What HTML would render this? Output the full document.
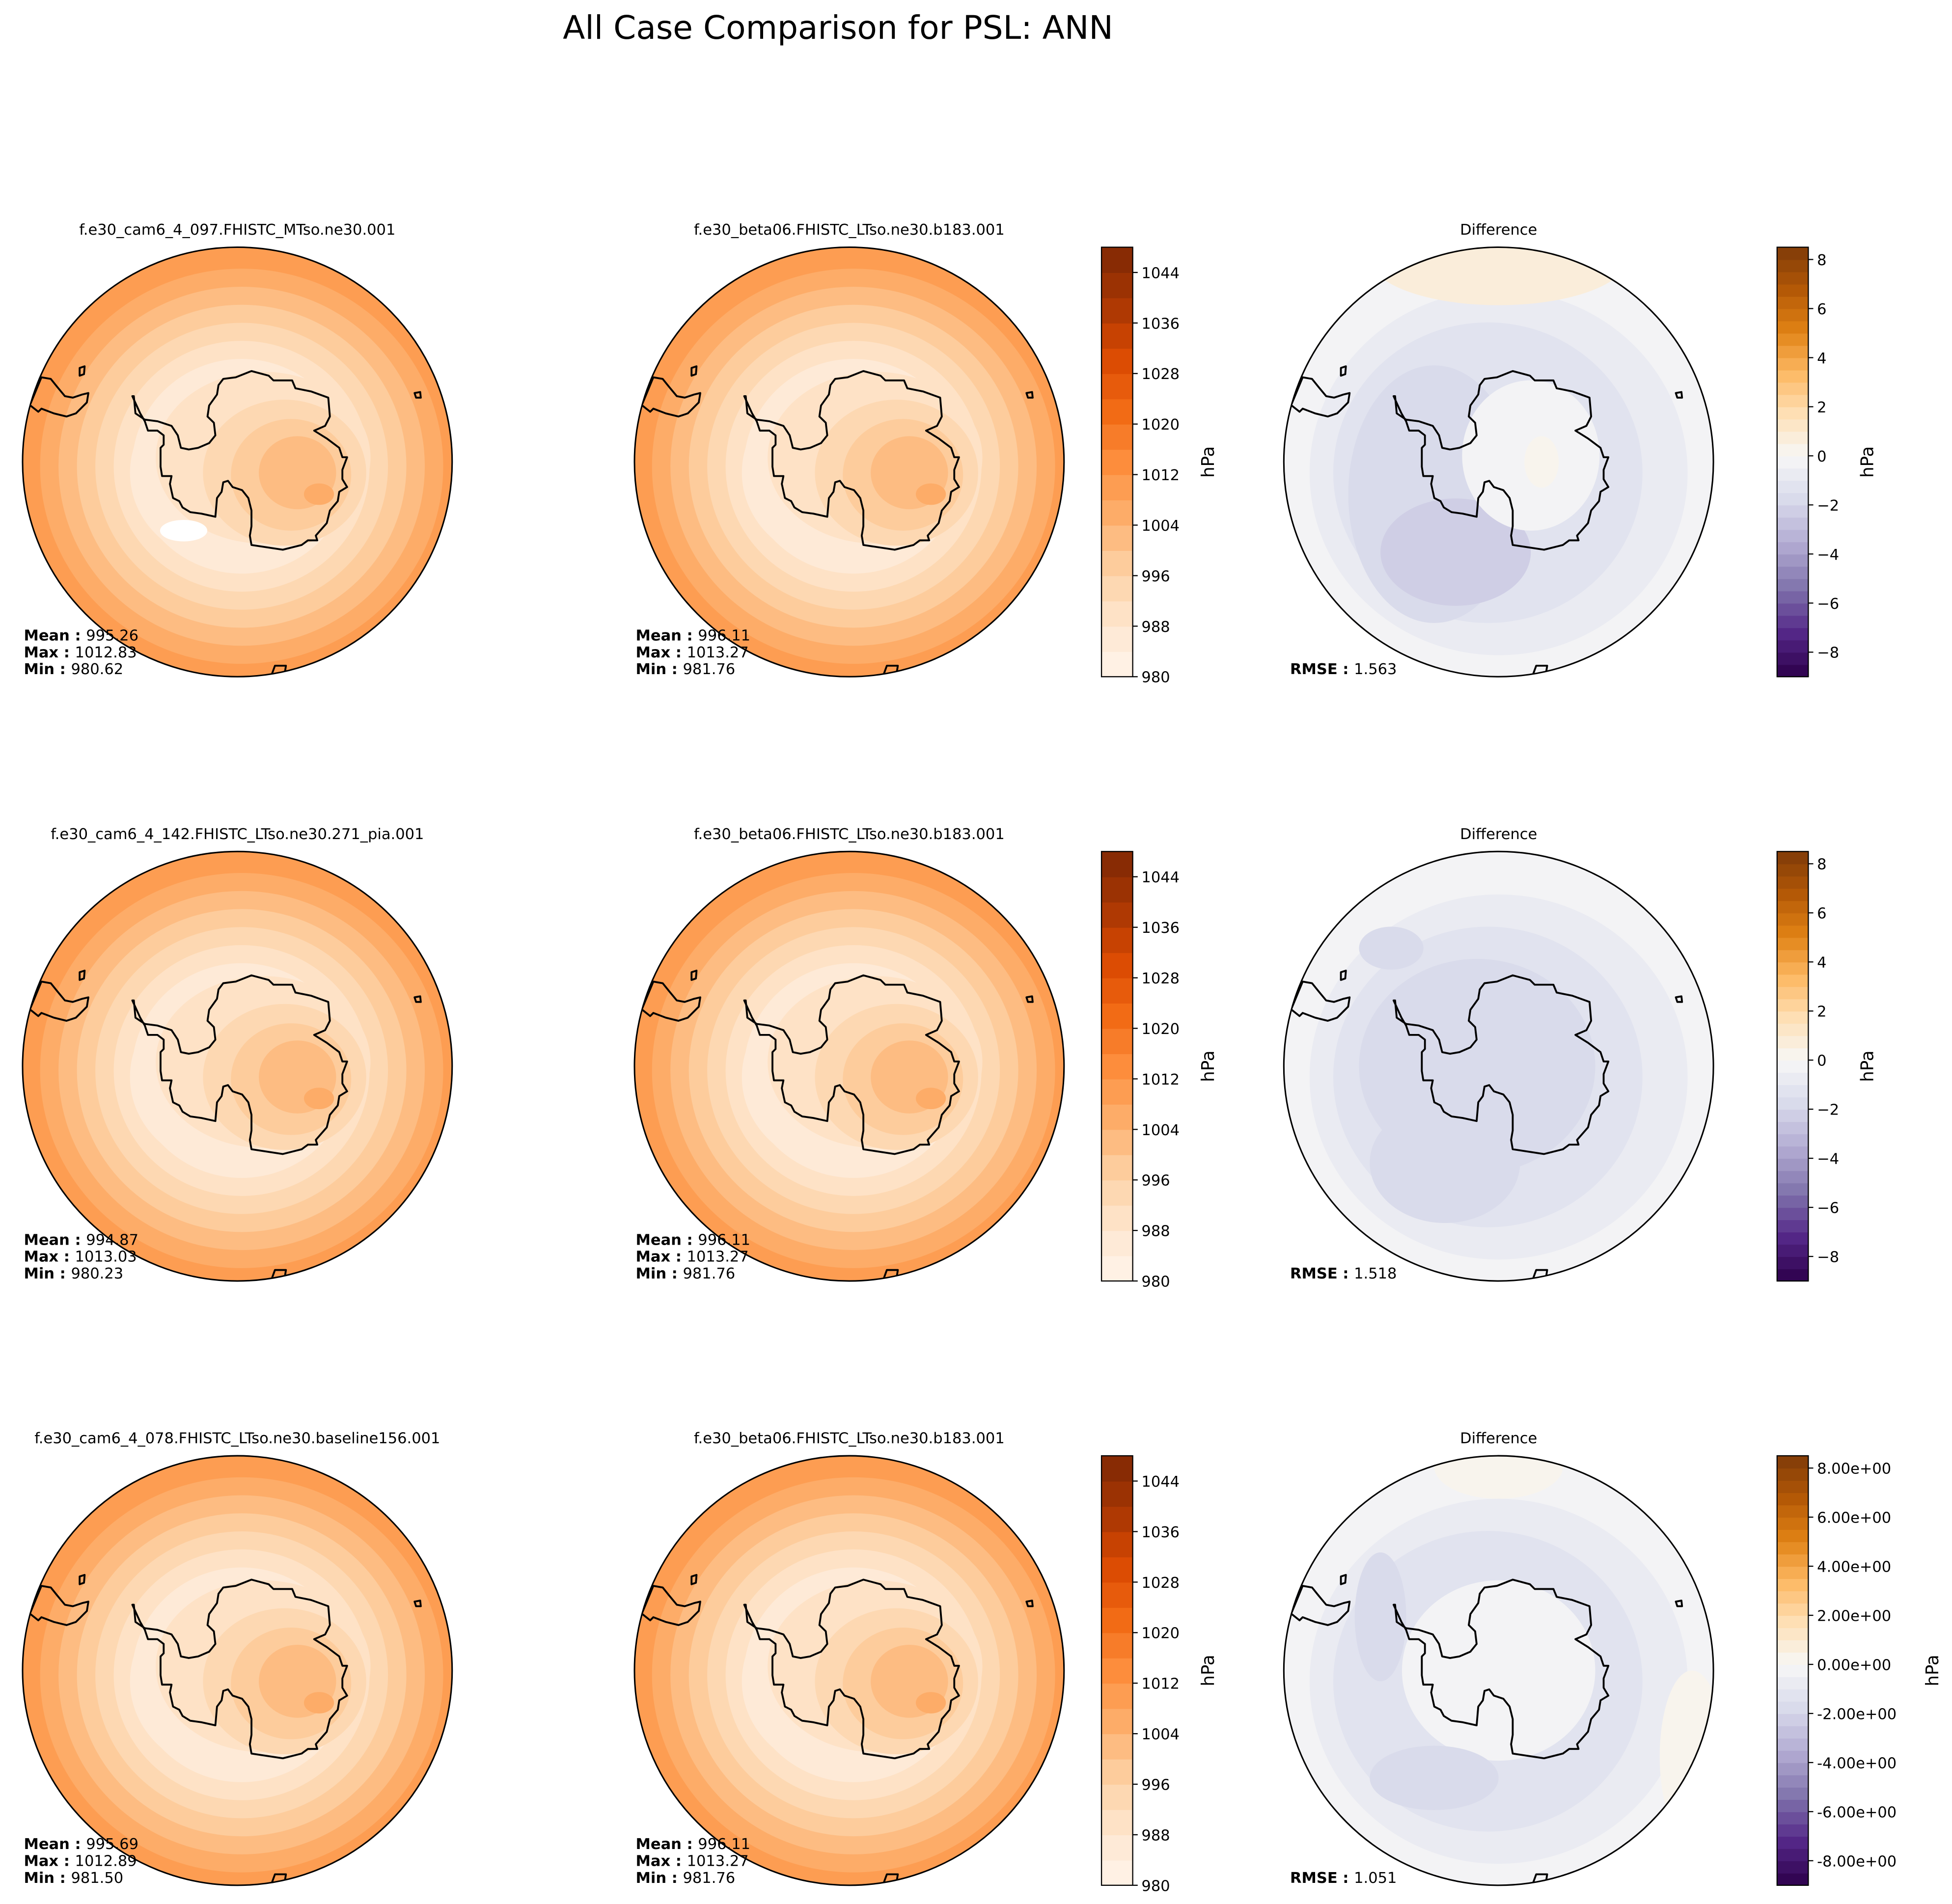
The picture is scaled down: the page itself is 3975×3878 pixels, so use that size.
<!DOCTYPE html>
<html><head><meta charset="utf-8"><style>
html,body{margin:0;padding:0;background:#fff}
svg{display:block}
text{font-family:"DejaVu Sans","Liberation Sans",sans-serif;fill:#000}
</style></head><body>
<svg id="fig" xmlns="http://www.w3.org/2000/svg" width="3975" height="3878" viewBox="0 0 1563 1525">
<rect width="1563" height="1525" fill="#fff"/>
<text x="671" y="31" font-size="26" text-anchor="middle">All Case Comparison for PSL: ANN</text>
<g id="root"></g>
</svg>
<script>
// ---- data ----
const caseNames = ["f.e30_cam6_4_097.FHISTC_MTso.ne30.001","f.e30_cam6_4_142.FHISTC_LTso.ne30.271_pia.001","f.e30_cam6_4_078.FHISTC_LTso.ne30.baseline156.001"];
const baseName = "f.e30_beta06.FHISTC_LTso.ne30.b183.001";
const testMean = [995.26, 994.87, 995.69];
const testMax = [1012.83, 1013.03, 1012.89];
const testMin = [980.62, 980.23, 981.50];
const baseMean = [996.11, 996.11, 996.11];
const baseMax = [1013.27, 1013.27, 1013.27];
const baseMin = [981.76, 981.76, 981.76];
const rmse = ["1.563", "1.518", "1.051"];
const absTicks = [980, 988, 996, 1004, 1012, 1020, 1028, 1036, 1044];
const diffTicks = [-8, -6, -4, -2, 0, 2, 4, 6, 8];
const absRange = [980, 1048];
const diffRange = [-9, 8.5];
// contour boundary values (hPa) for radial field
const ringLevels = [1008, 1004, 1000, 996, 992, 988];
// ---- helpers ----
const NS = "http://www.w3.org/2000/svg";
const root = document.getElementById("root");
function el(tag, attrs, parent){const e=document.createElementNS(NS,tag);for(const k in attrs)e.setAttribute(k,attrs[k]);(parent||root).appendChild(e);return e;}
function lerpHex(stops,t){t=Math.max(0,Math.min(1,t));const n=stops.length-1;const i=Math.min(n-1,Math.floor(t*n));const f=t*n-i;
 const a=stops[i],b=stops[i+1];const p=h=>[1,3,5].map(j=>parseInt(h.substr(j,2),16));const A=p(a),B=p(b);
 return "rgb("+A.map((v,k)=>Math.round(v+(B[k]-v)*f)).join(",")+")";}
const oranges=["#fff5eb","#fee6ce","#fdd0a2","#fdae6b","#fd8d3c","#f16913","#d94801","#a63603","#7f2704"];
const puor=["#2d004b","#542788","#8073ac","#b2abd2","#d8daeb","#f7f7f7","#fee0b6","#fdb863","#e08214","#b35806","#7f3b08"];
function absColor(v){const lo=Math.floor((v-980)/4)*4+980;return lerpHex(oranges,(lo+2-absRange[0])/(absRange[1]-absRange[0]));}
function diffColor(v){const lo=Math.floor(v/0.5)*0.5+0.25;const t=lo<0?0.5-0.5*(-lo/9):0.5+0.5*(lo/8.5);return lerpHex(puor,t);}
function ringFrac(v){return 0.5+(v-988)/20*0.42;}
const ant=[[425,635],[430,690],[460,710],[500,715],[545,730],[565,760],[575,800],[600,805],[630,800],[665,785],[685,760],[680,720],[660,700],[665,665],[690,630],[695,600],[710,580],[750,575],[800,555],[855,570],[870,585],[930,585],[940,610],[990,620],[1045,640],[1050,700],[1035,730],[1000,745],[1040,770],[1080,800],[1090,830],[1105,830],[1090,870],[1090,900],[1105,925],[1080,940],[1075,970],[1050,1000],[1040,1040],[1005,1080],[1010,1095],[980,1095],[960,1110],[900,1125],[800,1110],[795,1080],[800,1050],[800,1000],[790,960],[770,935],[740,925],[725,905],[710,910],[705,940],[690,960],[685,1020],[640,1010],[605,1005],[580,990],[570,970],[550,960],[540,915],[545,890],[515,890],[510,860],[510,800],[520,790],[520,760],[500,745],[470,745],[460,715],[445,690],[420,635]];
const sam=[[95,660],[130,575],[160,580],[180,605],[205,635],[230,640],[260,630],[280,625],[275,655],[240,690],[210,700],[170,690],[130,675],[120,685],[95,665]];
const isl1=[[252,545],[268,540],[266,565],[252,570]];
const isl2=[[1320,625],[1338,622],[1340,640],[1325,640]];
const isl3=[[862,1530],[875,1495],[910,1495],[905,1525]];
function pth(pts,cx,cy,R,close){return pts.map((p,i)=>(i?"L":"M")+(cx+(p[0]-755)/685*R).toFixed(1)+","+(cy+(p[1]-845)/685*R).toFixed(1)).join("")+(close?"Z":"");}
let clipId=0;
function mapPanel(cx,cy,R,kind,row){
 const g=el("g",{});
 
 
 const id="c"+(clipId++);const cp=el("clipPath",{id:id},g);el("circle",{cx:cx,cy:cy,r:R},cp);
 const inner=el("g",{"clip-path":"url(#"+id+")"},g);
 if(kind==="abs"){
  el("circle",{cx:cx,cy:cy,r:R,fill:absColor(1009)},inner);
  ringLevels.forEach(v=>{const f=ringFrac(v);el("ellipse",{cx:cx+R*0.02,cy:cy+R*0.02,rx:R*f*1.02,ry:R*f,fill:absColor(v-1)},inner);});
  el("ellipse",{cx:cx-R*0.05,cy:cy+R*0.05,rx:R*0.45,ry:R*0.42,fill:absColor(985)},inner);
  el("ellipse",{cx:cx+R*0.12,cy:cy-R*0.02,rx:R*0.5,ry:R*0.4,fill:absColor(989)},inner);
  el("ellipse",{cx:cx+R*0.22,cy:cy+R*0.05,rx:R*0.38,ry:R*0.34,fill:absColor(993)},inner);
  el("ellipse",{cx:cx+R*0.25,cy:cy+R*0.06,rx:R*0.28,ry:R*0.26,fill:absColor(997)},inner);
  el("ellipse",{cx:cx+R*0.28,cy:cy+R*0.05,rx:R*0.18,ry:R*0.17,fill:absColor(1001)},inner);
  el("ellipse",{cx:cx+R*0.38,cy:cy+R*0.15,rx:R*0.07,ry:R*0.05,fill:absColor(1005)},inner);
  if(row===0&&cx<300) el("ellipse",{cx:cx-R*0.25,cy:cy+R*0.32,rx:R*0.11,ry:R*0.05,fill:"#ffffff"},inner);
 } else {
  el("circle",{cx:cx,cy:cy,r:R,fill:diffColor(-0.3)},inner);
  el("ellipse",{cx:cx,cy:cy+R*0.05,rx:R*0.88,ry:R*0.85,fill:diffColor(-0.8)},inner);
  el("ellipse",{cx:cx-R*0.05,cy:cy+R*0.05,rx:R*0.72,ry:R*0.7,fill:diffColor(-1.3)},inner);
  if(row===0){
   el("ellipse",{cx:cx,cy:cy-R*0.95,rx:R*0.6,ry:R*0.22,fill:diffColor(0.6)},inner);
   el("ellipse",{cx:cx-R*0.3,cy:cy+R*0.15,rx:R*0.4,ry:R*0.6,fill:diffColor(-1.8)},inner);
   el("ellipse",{cx:cx-R*0.2,cy:cy+R*0.42,rx:R*0.35,ry:R*0.25,fill:diffColor(-2.3)},inner);
   el("ellipse",{cx:cx+R*0.15,cy:cy-R*0.03,rx:R*0.32,ry:R*0.35,fill:diffColor(-0.3)},inner);
   el("ellipse",{cx:cx+R*0.2,cy:cy,rx:R*0.08,ry:R*0.12,fill:diffColor(0.3)},inner);
  } else if(row===1){
   el("ellipse",{cx:cx-R*0.1,cy:cy,rx:R*0.55,ry:R*0.5,fill:diffColor(-1.6)},inner);
   el("ellipse",{cx:cx-R*0.25,cy:cy+R*0.45,rx:R*0.35,ry:R*0.28,fill:diffColor(-1.8)},inner);
   el("ellipse",{cx:cx-R*0.5,cy:cy-R*0.55,rx:R*0.15,ry:R*0.1,fill:diffColor(-1.8)},inner);
  } else {
   el("ellipse",{cx:cx,cy:cy,rx:R*0.45,ry:R*0.42,fill:diffColor(-0.3)},inner);
   el("ellipse",{cx:cx,cy:cy-R*0.95,rx:R*0.3,ry:R*0.15,fill:diffColor(0.3)},inner);
   el("ellipse",{cx:cx+R*0.9,cy:cy+R*0.4,rx:R*0.15,ry:R*0.4,fill:diffColor(0.3)},inner);
   el("ellipse",{cx:cx-R*0.3,cy:cy+R*0.5,rx:R*0.3,ry:R*0.15,fill:diffColor(-1.8)},inner);
   el("ellipse",{cx:cx-R*0.55,cy:cy-R*0.25,rx:R*0.12,ry:R*0.3,fill:diffColor(-1.8)},inner);
  }
 }
 const cs={fill:"none",stroke:"#000","stroke-width":1.5,"stroke-linejoin":"round"};
 const a=el("path",Object.assign({d:pth(ant,cx,cy,R,true)},cs),inner);
 
 el("path",Object.assign({d:pth(sam,cx,cy,R,false)},cs),inner);
 el("path",Object.assign({d:pth(isl1,cx,cy,R,true)},cs),inner);
 el("path",Object.assign({d:pth(isl2,cx,cy,R,true)},cs),inner);
 el("path",Object.assign({d:pth(isl3,cx,cy,R,false)},cs),inner);
 el("circle",{cx:cx,cy:cy,r:R,fill:"none",stroke:"#000","stroke-width":1.2},g);
}
function title(x,y,s){const t=el("text",{x:x,y:y,"font-size":12,"text-anchor":"middle"});t.textContent=s;
 }
function stats(x,y,labels,vals){labels.forEach((l,i)=>{const t=el("text",{x:x,y:y+i*13.5,"font-size":12});
 
 const b=el("tspan",{"font-weight":"bold"},t);b.textContent=l+" : ";const v=el("tspan",{},t);v.textContent=vals[i];});}
function colorbar(x,y0,y1,range,ticks,step,colorFn,fmt,labelX,kind){
 const g=el("g",{});
 const w=25,sc=v=>y1-(v-range[0])/(range[1]-range[0])*(y1-y0);
 for(let v=range[0];v<range[1]-1e-9;v+=step){el("rect",{x:x,y:sc(v+step),width:w,height:sc(v)-sc(v+step)+0.4,fill:colorFn(v+step/2)},g);}
 el("rect",{x:x,y:y0,width:w,height:y1-y0,fill:"none",stroke:"#000","stroke-width":0.9},g);
 ticks.forEach(v=>{const yy=sc(v);el("line",{x1:x+w,x2:x+w+4,y1:yy,y2:yy,stroke:"#000","stroke-width":0.9},g);
  const t=el("text",{x:x+w+7,y:yy+4.5,"font-size":12},g);t.textContent=fmt(v);
  });
 const ym=(y0+y1)/2;const t=el("text",{x:labelX,y:ym,"font-size":14,"text-anchor":"middle",transform:"rotate(-90 "+labelX+" "+ym+")"},g);t.textContent="hPa";
 
}
const rowsY=[370,854,1338],R=172,colX=[190,680,1200];
for(let r=0;r<3;r++){
 const cy=rowsY[r],top=cy-R,bot=cy+R;
 title(colX[0],cy-182,caseNames[r]);title(colX[1],cy-182,baseName);title(colX[2],cy-182,"Difference");
 mapPanel(colX[0],cy,R,"abs",r);mapPanel(colX[1],cy,R,"abs",r);mapPanel(colX[2],cy,R,"diff",r);
 stats(19,cy+143,["Mean","Max","Min"],[testMean[r].toFixed(2),testMax[r].toFixed(2),testMin[r].toFixed(2)]);
 stats(509,cy+143,["Mean","Max","Min"],[baseMean[r].toFixed(2),baseMax[r].toFixed(2),baseMin[r].toFixed(2)]);
 stats(1033,cy+170,["RMSE"],[rmse[r]]);
 colorbar(882,top,bot,absRange,absTicks,4,absColor,v=>String(v),972,"psl");
 if(r<2) colorbar(1423,top,bot,diffRange,diffTicks,0.5,diffColor,v=>v<0?"\u2212"+(-v):String(v),1500,"difference");
 else colorbar(1423,top,bot,diffRange,diffTicks,0.5,diffColor,v=>(v<0?"-":"")+Math.abs(v).toFixed(2)+"e+00",1552,"difference");
}
</script>
</body></html>
